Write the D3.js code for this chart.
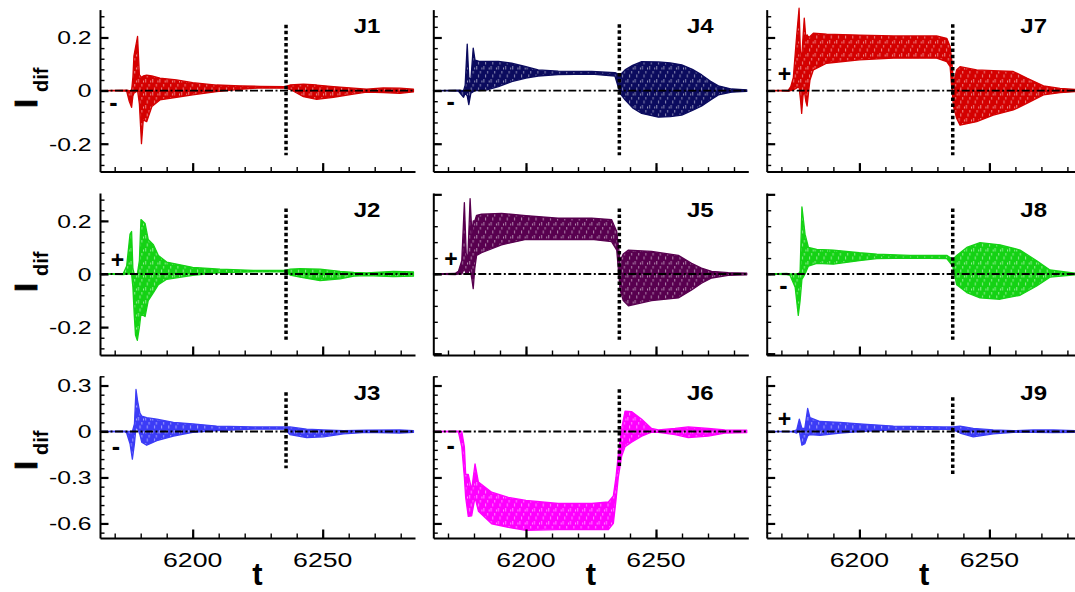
<!DOCTYPE html>
<html>
<head>
<meta charset="utf-8">
<title>I_dif vs t, J1-J9</title>
<script src="https://d3js.org/d3.v7.min.js"></script>
<style>
  body { margin: 0; background: #fff; }
  svg { display: block; }
  text { font-family: "Liberation Sans", Arial, Helvetica, sans-serif; fill: #000; }
</style>
</head>
<body>
<svg width="1075" height="592"></svg>

<script>
// envelope of the oscillating I_dif trace in each panel: [t, upper, lower]
var j1 = [
  [6164.4, 0, 0], [6174.6, 0.002, -0.002], [6175.6, 0, -0.04], [6176.5, 0, -0.063],
  [6177.0, 0.05, -0.02], [6177.4, 0.131, -0.01], [6178.8, 0.204, 0.0], [6179.5, 0.06, -0.05],
  [6180.3, 0.05, -0.2], [6181.0, 0.055, -0.11], [6182.3, 0.058, -0.117], [6184.3, 0.055, -0.06],
  [6187.4, 0.047, -0.035], [6193.8, 0.04, -0.025], [6200, 0.03, -0.016], [6209.2, 0.021, -0.004],
  [6218.2, 0.018, 0.005], [6225.9, 0.016, 0.01], [6235.5, 0.015, 0.009], [6237.4, 0.021, 0.005],
  [6242.6, 0.024, -0.023], [6247.7, 0.021, -0.033], [6254.1, 0.015, -0.025], [6261.8, 0.009, -0.013],
  [6266.9, 0.005, -0.006], [6273.3, 0.01, -0.008], [6279.7, 0.009, -0.01], [6284.9, 0.005, -0.005]
];
var j2 = [
  [6164.4, 0, 0], [6173.3, 0.002, -0.002], [6174.6, 0.03, 0], [6175.9, 0.15, 0], [6176.5, 0.16, 0],
  [6177.0, 0.02, -0.05], [6177.5, 0.0, -0.15], [6178.0, 0.0, -0.23], [6178.7, 0.0, -0.25],
  [6179.5, 0.05, -0.2], [6180.1, 0.205, -0.15], [6181.7, 0.19, -0.16], [6182.9, 0.13, -0.1],
  [6184.9, 0.11, -0.07], [6186.8, 0.07, -0.04], [6190, 0.045, -0.02], [6200, 0.025, -0.005],
  [6210.5, 0.018, 0.005], [6223.3, 0.014, 0.008], [6235.5, 0.014, 0.008], [6237.5, 0.018, -0.004],
  [6241.3, 0.02, -0.012], [6249, 0.018, -0.025], [6256.7, 0.01, -0.018], [6262, 0.006, -0.008],
  [6266.9, 0.004, -0.006], [6277.2, 0.01, -0.01], [6284.9, 0.008, -0.008]
];
var j3 = [
  [6164.4, 0, 0], [6174.0, 0.002, -0.002], [6174.6, 0, -0.01], [6175.9, 0, -0.08], [6176.8, 0, -0.18],
  [6177.6, 0.05, -0.08], [6178.2, 0.274, 0.03], [6178.8, 0.2, 0.02], [6179.7, 0.12, -0.02],
  [6180.4, 0.1, -0.07], [6182.3, 0.09, -0.09], [6186.2, 0.08, -0.06], [6192.6, 0.06, -0.03],
  [6200, 0.05, -0.005], [6209.2, 0.035, 0.005], [6223.3, 0.03, 0.015], [6235.5, 0.03, 0.015],
  [6237.4, 0.03, -0.02], [6243.8, 0.015, -0.04], [6250.3, 0.01, -0.035], [6258, 0.005, -0.015],
  [6266.9, 0.008, -0.006], [6279.7, 0.01, -0.01], [6284.9, 0.006, -0.006]
];
var j4 = [
  [6164.4, 0, 0], [6174.0, 0.002, -0.002], [6176.0, 0.0, -0.025], [6176.6, 0.02, -0.01],
  [6177.4, 0.175, -0.02], [6178.0, 0.05, -0.053], [6178.8, 0.04, -0.01], [6179.7, 0.16, -0.004],
  [6180.4, 0.115, 0.0], [6182.0, 0.11, 0.0], [6185.0, 0.11, 0.003], [6189.4, 0.11, 0.015],
  [6194.5, 0.103, 0.034], [6200, 0.09, 0.047], [6204.7, 0.078, 0.055], [6212.4, 0.073, 0.06],
  [6225.3, 0.072, 0.062], [6234.2, 0.068, 0.055], [6236.2, 0.059, -0.01], [6238.1, 0.078, -0.035],
  [6241.0, 0.095, -0.065], [6244.5, 0.109, -0.086], [6250.9, 0.108, -0.1], [6255.5, 0.104, -0.098],
  [6259.9, 0.097, -0.092], [6264.0, 0.08, -0.075], [6267.6, 0.059, -0.058], [6271.0, 0.035, -0.035],
  [6274, 0.018, -0.016], [6279.1, 0.006, -0.006], [6284.9, 0.003, -0.003]
];
var j5 = [
  [6164.4, 0, 0], [6172.7, 0.002, -0.002], [6174.0, 0.01, 0], [6175.3, 0.05, 0], [6176.3, 0.269, 0.02],
  [6177.0, 0.08, 0], [6177.6, 0.05, 0], [6178.5, 0.284, 0.02], [6179.2, 0.15, -0.02],
  [6179.7, 0.2, -0.055], [6180.3, 0.2, 0.02], [6181.0, 0.221, 0.07], [6182.9, 0.225, 0.08],
  [6190.6, 0.228, 0.11], [6200, 0.22, 0.13], [6212.4, 0.21, 0.13], [6225.3, 0.21, 0.13],
  [6232.9, 0.205, 0.122], [6234.9, 0.16, 0.09], [6236.2, 0.05, -0.06], [6237.4, 0.075, -0.1],
  [6239.4, 0.09, -0.12], [6248.3, 0.085, -0.1], [6258.6, 0.07, -0.09], [6263.7, 0.04, -0.06],
  [6267.5, 0.022, -0.035], [6271.4, 0.01, -0.015], [6277.8, 0.005, -0.005], [6284.9, 0.003, -0.003]
];
var j6 = [
  [6164.4, 0, 0], [6174, 0.002, -0.002], [6175.3, 0, -0.1], [6176.3, -0.1, -0.3], [6176.8, -0.28, -0.43],
  [6177.8, -0.28, -0.554], [6179.1, -0.38, -0.55], [6180.4, -0.211, -0.43], [6181.7, -0.33, -0.52],
  [6186.8, -0.396, -0.602], [6193.2, -0.43, -0.626], [6200, -0.45, -0.645], [6212.4, -0.47, -0.64],
  [6225.3, -0.47, -0.64], [6231.7, -0.46, -0.64], [6233.6, -0.42, -0.6], [6234.6, -0.3, -0.45],
  [6235.5, -0.15, -0.3], [6236.8, 0.02, -0.16], [6238.1, 0.133, -0.1], [6240.6, 0.13, -0.07],
  [6244.5, 0.08, -0.03], [6248.3, 0.02, -0.005], [6250.9, 0.01, -0.005], [6257.3, 0.02, -0.02],
  [6262.4, 0.03, -0.04], [6270.1, 0.02, -0.03], [6276.5, 0.01, -0.01], [6284.9, 0.008, -0.008]
];
var j7 = [
  [6164.4, 0, 0], [6172.7, 0.002, -0.002], [6173.6, 0.015, 0], [6174.6, 0.05, 0.002], [6175.9, 0.21, 0.01],
  [6176.8, 0.31, 0.015], [6177.3, 0.15, -0.03], [6177.8, 0.12, -0.086], [6178.3, 0.2, -0.02],
  [6178.8, 0.273, 0.0], [6179.4, 0.2, -0.04], [6179.9, 0.21, -0.058], [6180.5, 0.2, 0.0],
  [6181.0, 0.204, 0.04], [6182.3, 0.216, 0.078], [6187.4, 0.213, 0.103], [6200, 0.209, 0.116],
  [6213.1, 0.206, 0.122], [6229.7, 0.206, 0.122], [6233.6, 0.197, 0.109], [6234.9, 0.166, 0.09],
  [6235.5, 0.116, 0.015], [6236.2, 0.028, -0.06], [6237.4, 0.078, -0.104], [6238.7, 0.09, -0.13],
  [6245.1, 0.078, -0.117], [6251.5, 0.075, -0.092], [6259.2, 0.072, -0.073], [6264.4, 0.047, -0.048],
  [6270.8, 0.018, -0.016], [6277.2, 0.008, -0.008], [6283, 0.004, -0.004], [6285.5, 0.004, -0.004]
];
var j8 = [
  [6164.4, 0, 0], [6172, 0.002, -0.002], [6173.3, 0, -0.005], [6175.3, 0, -0.05], [6176.5, 0, -0.156],
  [6177.2, 0.01, -0.1], [6177.9, 0.253, -0.02], [6179.1, 0.15, 0.0], [6180.4, 0.1, 0.03],
  [6183.6, 0.093, 0.04], [6190, 0.09, 0.037], [6200, 0.08, 0.05], [6206.7, 0.075, 0.058],
  [6219.5, 0.07, 0.06], [6233.6, 0.07, 0.058], [6235.9, 0.055, 0.03], [6237.4, 0.07, -0.04],
  [6241.3, 0.1, -0.07], [6246.4, 0.118, -0.09], [6254.1, 0.11, -0.095], [6261.8, 0.09, -0.08],
  [6268.2, 0.05, -0.045], [6273.3, 0.015, -0.012], [6283, 0.003, -0.003], [6285.5, 0.003, -0.003]
];
var j9 = [
  [6164.4, 0, 0], [6174.6, 0.002, -0.002], [6175.9, 0.01, -0.01], [6176.9, 0.08, 0], [6177.9, 0.02, -0.09],
  [6179.0, 0.02, -0.08], [6180.1, 0.15, -0.03], [6181.0, 0.09, -0.02], [6184.9, 0.065, -0.025],
  [6192.6, 0.06, -0.01], [6200, 0.05, 0.0], [6213.1, 0.035, 0.01], [6232.3, 0.03, 0.015],
  [6235.9, 0.03, 0.012], [6238.7, 0.035, -0.01], [6243.8, 0.02, -0.035], [6251.5, 0.01, -0.015],
  [6259.2, 0.005, -0.005], [6266.9, 0.01, -0.005], [6274.6, 0.01, -0.008], [6283, 0.005, -0.005],
  [6285.5, 0.005, -0.005]
];

// panels in column order (J1-J3 left column, J4-J6 middle, J7-J9 right)
var panelNames = ['J1', 'J2', 'J3', 'J4', 'J5', 'J6', 'J7', 'J8', 'J9'];
var panelData = [j1, j2, j3, j4, j5, j6, j7, j8, j9];
var panelColors = ['#d40000', '#14d214', '#3c3cf6', '#0b0b5e', '#58004f', '#ff00ff', '#d40000', '#14d214', '#3c3cf6'];
var panelSigns = ['-', '+', '-', '-', '+', '-', '+', '-', '+'];
var signT = [6169.5, 6171.1, 6170.5, 6171, 6171.1, 6171, 6171.2, 6170.8, 6171.2];
var signV = [-0.044, 0.051, -0.095, -0.039, 0.056, -0.09, 0.061, -0.043, 0.082];
var panelTicks = ['a', 'a', 'c', 'a', 'b', 'c', 'a', 'b', 'c'];

// dotted marker line
var switchT = 6235.9;
var switchTop = [0.248, 0.247, 0.256, 0.25, 0.247, 0.275, 0.25, 0.247, 0.223];
var switchBottom = [-0.243, -0.248, -0.24, -0.243, -0.248, -0.23, -0.243, -0.248, -0.284];

// axes
var tDomain = [6164.35, 6285.5];
var rowDomains = [[-0.305, 0.305], [-0.305, 0.305], [-0.695, 0.362]];
var xMinor = [6170, 6180, 6190, 6200, 6210, 6220, 6230, 6240, 6250, 6260, 6270, 6280];
var xMajor = [6200, 6250];
var xLabels = ['6200', '6250'];
var yTicks = {
  a: { minor: [-0.28, -0.24, -0.2, -0.16, -0.12, -0.08, -0.04, 0, 0.04, 0.08, 0.12, 0.16, 0.2, 0.24, 0.28],
       major: [-0.2, 0, 0.2], labels: ['-0.2', '0', '0.2'] },
  b: { minor: [-0.3, -0.24, -0.18, -0.12, -0.06, 0, 0.06, 0.12, 0.18, 0.24, 0.3],
       major: [-0.3, 0, 0.3], labels: ['-0.3', '0', '0.3'] },
  c: { minor: [-0.66, -0.6, -0.54, -0.48, -0.42, -0.36, -0.3, -0.24, -0.18, -0.12, -0.06, 0, 0.06, 0.12, 0.18, 0.24, 0.3, 0.36],
       major: [-0.6, -0.3, 0, 0.3], labels: ['-0.6', '-0.3', '0', '0.3'] }
};

// layout
var colLeft = [100, 433.3, 766.7], panelW = 315;
var rowTop = [9.6, 193, 376], rowBottom = [171.6, 355, 538];
var labelI = [108, 292, 470], labelDif = [92, 276, 455];

var svg = d3.select('svg');
var defs = svg.append('defs');

function wideText(g, x, y, str, size, anchor, bold, sx) {
  return g.append('text')
    .attr('transform', 'translate(' + x + ',' + y + ') scale(' + sx + ',1)')
    .attr('text-anchor', anchor)
    .attr('font-size', size)
    .attr('font-weight', bold ? 'bold' : 'normal')
    .text(str);
}

// white flecks left between the packed oscillation strokes
var fleck = [[1.2, 1, 3.5], [4.8, 6, 2.5], [2.9, 9.5, 3], [6.3, 2.5, 2]];

panelNames.forEach(function(name, i) {
  var col = Math.floor(i / 3), row = i % 3;
  var x0 = colLeft[col];
  var color = panelColors[i];
  var ticks = yTicks[panelTicks[i]];

  var x = d3.scaleLinear().domain(tDomain).range([x0, x0 + panelW]);
  var y = d3.scaleLinear().domain(rowDomains[row]).range([rowBottom[row], rowTop[row]]);

  var pat = defs.append('pattern')
    .attr('id', 'tex' + name)
    .attr('patternUnits', 'userSpaceOnUse')
    .attr('width', 7.2).attr('height', 13);
  pat.append('rect').attr('width', 7.2).attr('height', 13).attr('fill', color);
  fleck.forEach(function(f) {
    pat.append('rect').attr('x', f[0]).attr('y', f[1]).attr('width', 0.8).attr('height', f[2])
      .attr('fill', '#fff').attr('opacity', 0.65);
  });

  var g = svg.append('g');

  var area = d3.area()
    .x(function(d) { return x(d[0]); })
    .y0(function(d) { return y(d[2]); })
    .y1(function(d) { return y(d[1]); });

  g.append('path')
    .datum(panelData[i])
    .attr('d', area)
    .attr('fill', 'url(#tex' + name + ')')
    .attr('stroke', color)
    .attr('stroke-width', 1.3)
    .attr('stroke-linejoin', 'round');

  // left axis, ticks pointing into the panel
  var yAxisMinor = g.append('g')
    .attr('transform', 'translate(' + x0 + ',0)')
    .call(d3.axisLeft(y).tickValues(ticks.minor).tickSize(-4.5).tickSizeOuter(0).tickFormat(''));
  yAxisMinor.select('.domain').attr('stroke-width', 2);
  yAxisMinor.selectAll('.tick line').attr('stroke-width', 1.4);
  var yAxisMajor = g.append('g')
    .attr('transform', 'translate(' + x0 + ',0)')
    .call(d3.axisLeft(y).tickValues(ticks.major).tickSize(-8.5).tickSizeOuter(0).tickFormat(''));
  yAxisMajor.select('.domain').remove();
  yAxisMajor.selectAll('.tick line').attr('stroke-width', 2.2);

  // bottom axis
  var xAxisMinor = g.append('g')
    .attr('transform', 'translate(0,' + rowBottom[row] + ')')
    .call(d3.axisBottom(x).tickValues(xMinor).tickSize(-4.5).tickSizeOuter(0).tickFormat(''));
  xAxisMinor.select('.domain').attr('stroke-width', 2);
  xAxisMinor.selectAll('.tick line').attr('stroke-width', 1.4);
  var xAxisMajor = g.append('g')
    .attr('transform', 'translate(0,' + rowBottom[row] + ')')
    .call(d3.axisBottom(x).tickValues(xMajor).tickSize(-8.5).tickSizeOuter(0).tickFormat(''));
  xAxisMajor.select('.domain').remove();
  xAxisMajor.selectAll('.tick line').attr('stroke-width', 2.2);

  // zero reference, dash-dot
  g.append('line')
    .attr('x1', x(tDomain[0])).attr('x2', x(tDomain[1]))
    .attr('y1', y(0)).attr('y2', y(0))
    .attr('stroke', '#000').attr('stroke-width', 1.8)
    .attr('stroke-dasharray', '8,2.5,2,2.5');

  // dotted vertical marker
  g.append('line')
    .attr('x1', x(switchT)).attr('x2', x(switchT))
    .attr('y1', y(switchTop[i])).attr('y2', y(switchBottom[i]))
    .attr('stroke', '#000').attr('stroke-width', 3.5)
    .attr('stroke-dasharray', '3.5,2.6');

  // sign annotation
  g.append('text')
    .attr('x', x(signT[i])).attr('y', y(signV[i]))
    .attr('text-anchor', 'middle')
    .attr('dominant-baseline', 'central')
    .attr('font-size', panelSigns[i] === '+' ? 23 : 25)
    .attr('font-weight', 'bold')
    .text(panelSigns[i]);

  // panel name
  wideText(g, x0 + 267, rowTop[row] + 23.7, name, 20, 'middle', true, 1.2);

  // tick labels only on the outer axes
  if (col === 0) {
    ticks.major.forEach(function(v, k) {
      wideText(g, x0 - 8.5, y(v) + 6.8, ticks.labels[k], 19, 'end', false, 1.3);
    });
  }
  if (row === 2) {
    xMajor.forEach(function(v, k) {
      wideText(g, x(v), 567, xLabels[k], 20.5, 'middle', false, 1.3);
    });
    g.append('text')
      .attr('x', x0 + panelW / 2).attr('y', 585)
      .attr('text-anchor', 'middle')
      .attr('font-size', 31).attr('font-weight', 'bold')
      .text('t');
  }
});

// y axis title on each row: I with subscript dif
rowTop.forEach(function(top, row) {
  svg.append('text')
    .attr('transform', 'translate(36.7,' + labelI[row] + ') rotate(-90)')
    .attr('font-size', 32).attr('font-weight', 'bold')
    .attr('stroke', '#000').attr('stroke-width', 0.8)
    .text('I');
  svg.append('text')
    .attr('transform', 'translate(48,' + labelDif[row] + ') rotate(-90)')
    .attr('font-size', 20).attr('font-weight', 'bold')
    .text('dif');
});
</script>
</body>
</html>
